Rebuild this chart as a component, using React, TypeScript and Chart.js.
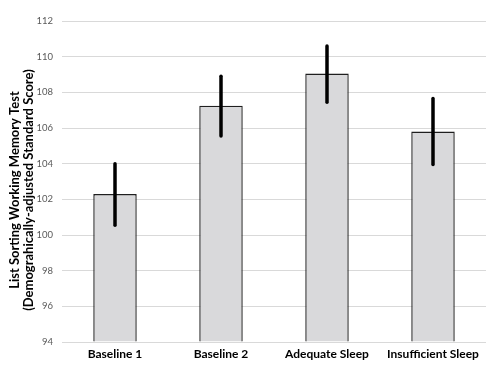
import React, { useEffect, useRef } from "react";
import { Chart, registerables } from "chart.js";

Chart.register(...registerables);

const categories = ["Baseline 1", "Baseline 2", "Adequate Sleep", "Insufficient Sleep"];
const means = [102.3, 107.25, 109.05, 105.8];
const errLow = [100.55, 105.55, 107.45, 103.95];
const errHigh = [104.0, 108.9, 110.6, 107.65];
const yTitle = ["List Sorting Working Memory Test", "(Demograhically-adjusted Standard Score)"];

const errorBarPlugin = {
  id: "errorBars",
  afterDatasetsDraw(chart: any) {
    const ctx = chart.ctx;
    const meta = chart.getDatasetMeta(0);
    const y = chart.scales.y;
    ctx.save();
    ctx.strokeStyle = "#000000";
    ctx.lineWidth = 3.5;
    ctx.lineCap = "round";
    meta.data.forEach((bar: any, i: number) => {
      const x = bar.x;
      ctx.beginPath();
      ctx.moveTo(x, y.getPixelForValue(errLow[i]));
      ctx.lineTo(x, y.getPixelForValue(errHigh[i]));
      ctx.stroke();
    });
    ctx.restore();
  },
};

const yTitlePlugin = {
  id: "yTitle",
  afterDraw(chart: any) {
    const ctx = chart.ctx;
    ctx.save();
    ctx.translate(15, 190);
    ctx.rotate(-Math.PI / 2);
    ctx.fillStyle = "#000000";
    ctx.font = "bold 13px Lato";
    ctx.textAlign = "center";
    ctx.textBaseline = "middle";
    yTitle.forEach((line, i) => {
      ctx.fillText(line, 0, i * 14);
    });
    ctx.restore();
  },
};

export default function App() {
  const ref = useRef<HTMLCanvasElement>(null);
  useEffect(() => {
    document.body.style.margin = "0";
    const chart = new Chart(ref.current!, {
      type: "bar",
      data: {
        labels: categories,
        datasets: [
          {
            data: means,
            backgroundColor: "#d9d9db",
            borderColor: "#1f1f1f",
            borderWidth: 1.4,
            barPercentage: 0.41,
            categoryPercentage: 1,
            base: 94,
          },
        ],
      },
      options: {
        responsive: false,
        animation: false,
        layout: { padding: { top: 21, right: 5, left: 36, bottom: 0 } },
        plugins: {
          legend: { display: false },
          tooltip: { enabled: false },
        },
        scales: {
          x: {
            grid: { display: false, drawTicks: false },
            border: { display: false },
            ticks: {
              color: "#000000",
              font: { family: "Lato", size: 12, weight: "bold" },
              padding: 5,
              maxRotation: 0,
            },
            afterFit(scale: any) {
              scale.height = 32;
            },
          },
          y: {
            min: 94,
            max: 112,
            ticks: {
              stepSize: 2,
              color: "#595959",
              font: { family: "Lato", size: 9.5 },
              padding: 9,
            },
            grid: { color: "#d9d9d9", lineWidth: 1, drawTicks: false },
            border: { display: false },
            afterFit(scale: any) {
              scale.width = 26;
            },
          },
        },
      },
      plugins: [errorBarPlugin, yTitlePlugin],
    });
    return () => chart.destroy();
  }, []);
  return (
    <div style={{ position: "absolute", left: 0, top: 0, width: 491, height: 374 }}>
      <canvas ref={ref} width={491} height={374} />
    </div>
  );
}
